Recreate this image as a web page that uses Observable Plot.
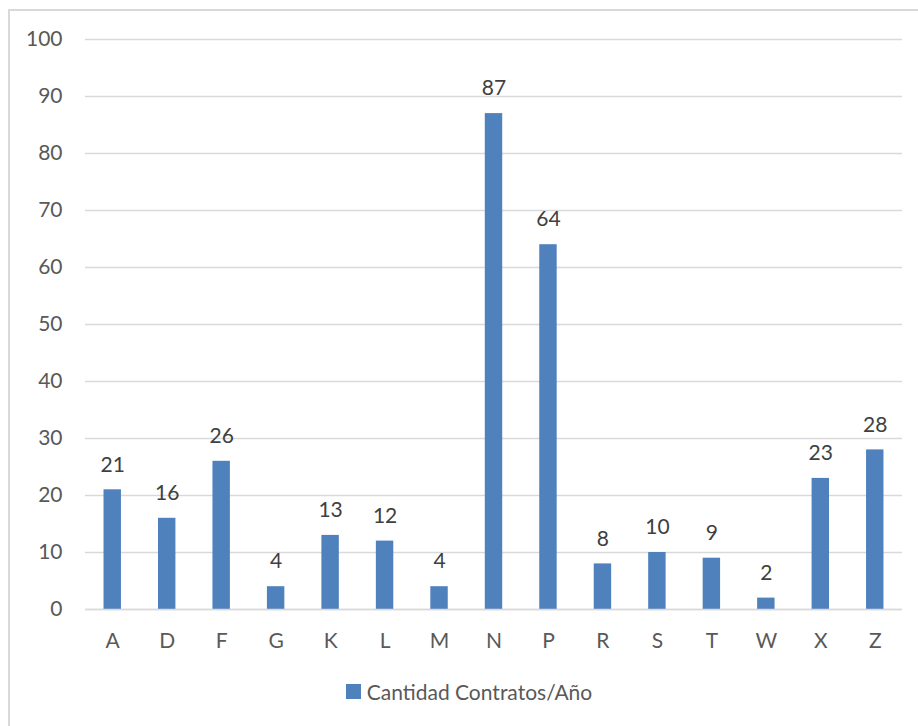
<!DOCTYPE html>
<html>
<head>
<meta charset="utf-8">
<script src="https://cdn.jsdelivr.net/npm/d3@7"></script>
<script src="https://cdn.jsdelivr.net/npm/@observablehq/plot@0.6"></script>
<style>
  html, body { margin: 0; padding: 0; background: #fff; overflow: hidden; }
  body { width: 918px; height: 726px; position: relative; font-family: Lato, "Open Sans", sans-serif; }
  #frame { position: absolute; left: 8px; top: 9px; width: 930px; height: 740px; border: 2px solid #D9D9D9; box-sizing: border-box; }
  #chart { position: absolute; left: 0; top: 0; }
  #legend { position: absolute; left: 0; top: 679px; width: 918px; display: flex; justify-content: center; align-items: center; color: #595959; font-size: 21px; }
  #legend .sw { width: 15px; height: 15px; background: #4F81BD; margin-right: 6px; margin-left: 20px; }
</style>
</head>
<body>
<div id="frame"></div>
<div id="chart"></div>
<div id="legend"><span class="sw"></span><span>Cantidad Contratos/Año</span></div>
<script>
// Contracts per year by category
const categories = ["A", "D", "F", "G", "K", "L", "M", "N", "P", "R", "S", "T", "W", "X", "Z"];
const contratos = [21, 16, 26, 4, 13, 12, 4, 87, 64, 8, 10, 9, 2, 23, 28];
const yTicks = [0, 10, 20, 30, 40, 50, 60, 70, 80, 90, 100];

const data = categories.map((c, i) => ({categoria: c, valor: contratos[i]}));

const chart = Plot.plot({
  width: 918,
  height: 659,
  marginLeft: 85,
  marginRight: 16,
  marginTop: 39,
  marginBottom: 50,
  style: {fontFamily: "Lato, 'Open Sans', sans-serif", fontSize: "21px", color: "#595959", background: "transparent"},
  x: {domain: categories, paddingInner: 0.68, paddingOuter: 0.34, round: false, label: null},
  y: {domain: [0, 100], label: null},
  marks: [
    Plot.gridY(yTicks, {stroke: "#D9D9D9", strokeOpacity: 1, strokeWidth: 1.5}),
    Plot.barY(data, {x: "categoria", y: "valor", fill: "#4F81BD"}),
    Plot.ruleY([0], {stroke: "#D9D9D9", strokeWidth: 1.5}),
    Plot.text(data, {x: "categoria", y: "valor", text: d => String(d.valor), dy: -25, fill: "#404040", fontSize: 21}),
    Plot.axisY(yTicks, {tickSize: 0, tickPadding: 23, label: null, fill: "#595959"}),
    Plot.axisX({tickSize: 0, tickPadding: 24, label: null, fill: "#595959"})
  ]
});
document.getElementById("chart").appendChild(chart);
</script>
</body>
</html>
